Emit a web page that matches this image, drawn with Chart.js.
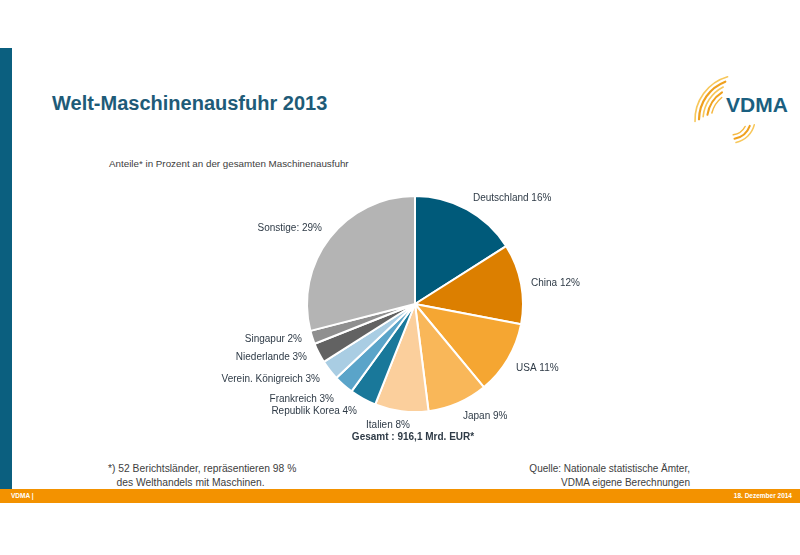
<!DOCTYPE html>
<html>
<head>
<meta charset="utf-8">
<script src="https://cdn.jsdelivr.net/npm/chart.js@4.4.1/dist/chart.umd.min.js"></script>
<style>
  html, body { margin:0; padding:0; background:#fff; }
  #slide { position:relative; width:800px; height:555px; overflow:hidden; background:#fff; font-family:"Liberation Sans", Arial, sans-serif; }
  #chartBox { position:absolute; left:0; top:0; width:800px; height:555px; }
  .abs { position:absolute; white-space:nowrap; }
  #leftbar { left:0; top:48px; width:12px; height:441px; background:#0b5f7f; }
  #footer { left:0; top:489px; width:800px; height:14px; background:#f39200; }
  #title { left:52px; top:92px; font-size:20px; font-weight:bold; color:#1e5b78; }
  #subtitle { left:109px; top:158px; font-size:9.8px; color:#404040; }
  .note { font-family:"Liberation Sans", Arial, sans-serif; font-size:10.3px; color:#404040; line-height:14px; }
  #fnote { left:108px; top:462px; }
  #source { right:110px; top:462px; text-align:right; font-size:10px; }
  .foot { font-family:"Liberation Sans", Arial, sans-serif; font-size:6.5px; font-weight:bold; color:#fff; top:492px; }
  #logoText { left:726px; top:93px; font-size:21px; font-weight:bold; color:#1b5f80; }
</style>
</head>
<body>
<div id="slide">
  <div class="abs" id="leftbar"></div>
  <div class="abs" id="footer"></div>
  <div class="abs foot" style="left:11px;">VDMA |</div>
  <div class="abs foot" style="right:8px;">18. Dezember 2014</div>
  <div class="abs" id="title">Welt-Maschinenausfuhr 2013</div>
  <div class="abs" id="subtitle">Anteile* in Prozent an der gesamten Maschinenausfuhr</div>
  <div class="abs note" id="fnote">*) 52 Berichtsländer, repräsentieren 98 %<br>&nbsp;&nbsp;&nbsp;des Welthandels mit Maschinen.</div>
  <div class="abs note" id="source">Quelle: Nationale statistische Ämter,<br>VDMA eigene Berechnungen</div>
  <svg id="logoArcs" class="abs" style="left:660px;top:60px;" width="140" height="90" viewBox="0 0 140 90"></svg>
  <div class="abs" id="logoText">VDMA</div>
  <div id="chartBox"><canvas id="c" width="800" height="555"></canvas></div>
</div>
<script>
// ---- data ----
const categories = ["Deutschland", "China", "USA", "Japan", "Italien", "Republik Korea", "Frankreich", "Verein. Königreich", "Niederlande", "Singapur", "Sonstige:"];
const shares = [16, 12, 11, 9, 8, 4, 3, 3, 3, 2, 29];
const totalLabel = "Gesamt : 916,1 Mrd. EUR*";

// ---- styling ----
const colors = ["#005a7a", "#dc7f00", "#f5a632", "#f9b759", "#fbcf9c", "#19789a", "#5aa4c9", "#a9cde3", "#626262", "#8f8f8f", "#b4b4b4"];
// label anchors relative to pie center in pixels: [dx, dy, align]
const labelPos = [
  [58, -106, "left"], [116, -21, "left"], [101, 64, "left"], [48, 112, "left"],
  [-27, 121, "center"], [-58, 107, "right"], [-81, 95, "right"], [-95, 75, "right"],
  [-108, 53, "right"], [-113, 35, "right"], [-93, -76, "right"]
];

// ---- logo arcs (decoration) ----
(function () {
  const svg = document.getElementById("logoArcs");
  function arc(cx, cy, r, a0, a1, color, w) {
    const t0 = a0 * Math.PI / 180, t1 = a1 * Math.PI / 180;
    const x0 = cx + r * Math.cos(t0), y0 = cy + r * Math.sin(t0);
    const x1 = cx + r * Math.cos(t1), y1 = cy + r * Math.sin(t1);
    const sweep = a1 > a0 ? 1 : 0;
    const p = document.createElementNS("http://www.w3.org/2000/svg", "path");
    p.setAttribute("d", `M ${x0} ${y0} A ${r} ${r} 0 0 ${sweep} ${x1} ${y1}`);
    p.setAttribute("fill", "none");
    p.setAttribute("stroke", color);
    p.setAttribute("stroke-width", w);
    p.setAttribute("stroke-linecap", "round");
    svg.appendChild(p);
  }
  arc(80, 60, 45, 178, 254, "#f7c75a", 1.6);
  arc(80, 60, 41, 181, 249, "#efa01e", 2.2);
  arc(80, 60, 37, 185, 243, "#f7c75a", 1.6);
  arc(80, 60, 33, 189, 237, "#efa01e", 2.0);
  arc(80, 60, 29, 194, 231, "#f5b840", 1.5);
  arc(71, 59, 24, 78, 14, "#f7c75a", 1.5);
  arc(71, 59, 20, 80, 20, "#efa01e", 2.0);
  arc(71, 59, 16, 82, 28, "#f5b840", 1.5);
})();

const labelPlugin = {
  id: "labels",
  afterDraw(chart) {
    const arcEl = chart.getDatasetMeta(0).data[0];
    const cx = arcEl.x, cy = arcEl.y;
    const ctx = chart.ctx;
    ctx.save();
    ctx.font = "10px 'Liberation Sans', Arial, sans-serif";
    ctx.fillStyle = "#2f3b47";
    ctx.textBaseline = "middle";
    categories.forEach((c, i) => {
      const p = labelPos[i];
      ctx.textAlign = p[2];
      ctx.fillText(c + " " + shares[i] + "%", cx + p[0], cy + p[1]);
    });
    ctx.font = "bold 10px 'Liberation Sans', Arial, sans-serif";
    ctx.textAlign = "center";
    ctx.fillText(totalLabel, cx - 2, cy + 133);
    ctx.restore();
  }
};

new Chart(document.getElementById("c"), {
  type: "pie",
  data: {
    labels: categories,
    datasets: [{
      data: shares,
      backgroundColor: colors,
      borderColor: "#ffffff",
      borderWidth: 2
    }]
  },
  options: {
    responsive: false,
    animation: false,
    layout: { padding: { left: 306, right: 276, top: 195, bottom: 142 } },
    plugins: { legend: { display: false }, tooltip: { enabled: false } }
  },
  plugins: [labelPlugin]
});
</script>
</body>
</html>
